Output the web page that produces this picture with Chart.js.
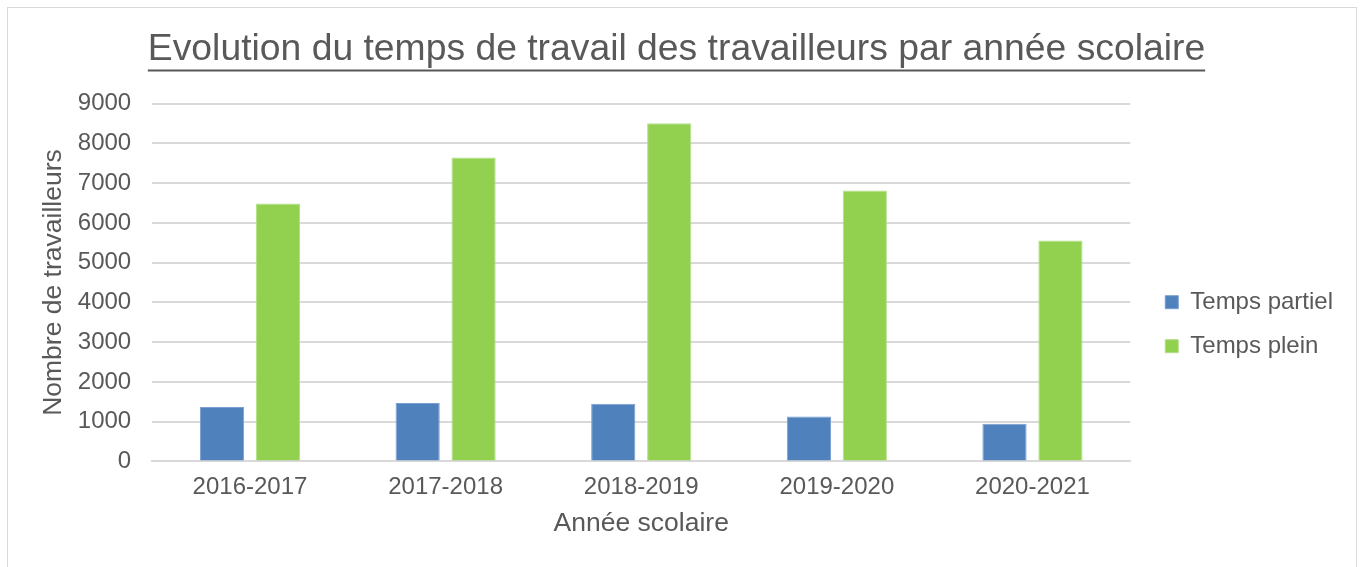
<!DOCTYPE html>
<html>
<head>
<meta charset="utf-8">
<script src="https://cdn.jsdelivr.net/npm/chart.js@4/dist/chart.umd.min.js"></script>
<style>
  html, body { margin: 0; padding: 0; background: #fff; }
  #frame { position: absolute; left: 7px; top: 7px; width: 1348px; height: 600px; border: 1px solid #d9d9d9; }
  #wrap { position: absolute; left: 0; top: 0; width: 1363px; height: 567px; }
</style>
</head>
<body>
<div id="frame"></div>
<div id="wrap"><canvas id="chart-travail"></canvas></div>
<script>
const years = ['2016-2017', '2017-2018', '2018-2019', '2019-2020', '2020-2021'];
const partiel = [1370, 1470, 1450, 1130, 950];
const plein = [6490, 7650, 8510, 6820, 5560];
const yTicks = [0, 1000, 2000, 3000, 4000, 5000, 6000, 7000, 8000, 9000];

const TEXT = '#595959';
const GRID = '#d9d9d9';
const FONT = "'Liberation Sans', Arial, sans-serif";

// Chart.js titles can't be underlined, so draw the line under it ourselves
const underlineTitle = {
  id: 'underlineTitle',
  afterDraw(chart) {
    const t = chart.titleBlock;
    if (!t) return;
    const ctx = chart.ctx;
    const font = Chart.helpers.toFont(t.options.font);
    ctx.save();
    ctx.font = font.string;
    const w = ctx.measureText(t.options.text).width;
    const cx = (t.left + t.right) / 2;
    const y = t.top + t.options.padding.top + font.lineHeight / 2 + 21;
    ctx.strokeStyle = TEXT;
    ctx.lineWidth = 2;
    ctx.beginPath();
    ctx.moveTo(cx - w / 2, y);
    ctx.lineTo(cx + w / 2, y);
    ctx.stroke();
    ctx.restore();
  },
};

new Chart(document.getElementById('chart-travail'), {
  type: 'bar',
  data: {
    labels: years,
    datasets: [
      {
        label: 'Temps partiel',
        data: partiel,
        backgroundColor: '#4f81bd',
        borderColor: '#7a9fd0',
        borderWidth: 1,
        barPercentage: 0.79,
        categoryPercentage: 0.572,
      },
      {
        label: 'Temps plein',
        data: plein,
        backgroundColor: '#92d050',
        borderColor: '#b3df88',
        borderWidth: 1,
        barPercentage: 0.79,
        categoryPercentage: 0.572,
      },
    ],
  },
  options: {
    responsive: true,
    maintainAspectRatio: false,
    animation: false,
    layout: { padding: { left: 10, right: 20, top: 10, bottom: 10 } },
    plugins: {
      title: {
        display: true,
        text: 'Evolution du temps de travail des travailleurs par année scolaire',
        color: TEXT,
        font: { family: FONT, size: 37.3, weight: 'normal' },
        padding: { top: 17, bottom: 32 },
      },
      legend: {
        position: 'right',
        // blank title only pushes the items down to where Excel put them
        title: { display: true, text: ' ', font: { size: 12 }, padding: { top: 67, bottom: 0 } },
        labels: {
          color: TEXT,
          font: { family: FONT, size: 24 },
          boxWidth: 13,
          boxHeight: 13,
          padding: 20,
        },
      },
      tooltip: { enabled: false },
    },
    scales: {
      x: {
        grid: { display: false, drawTicks: false },
        border: { color: GRID, width: 2 },
        ticks: { color: TEXT, font: { family: FONT, size: 24 }, padding: 12 },
        title: {
          display: true,
          text: 'Année scolaire',
          color: TEXT,
          font: { family: FONT, size: 26.5 },
          padding: { top: 8, bottom: 17 },
        },
        // tick padding ends up counted twice, take it back
        afterFit: s => { s.height -= 14; },
      },
      y: {
        min: 0,
        max: 9000,
        afterBuildTicks: s => { s.ticks = yTicks.map(v => ({ value: v })); },
        ticks: { color: TEXT, font: { family: FONT, size: 24 }, padding: 21, callback: v => String(v) },
        grid: { color: GRID, lineWidth: 2, drawTicks: false },
        border: { display: false },
        title: {
          display: true,
          text: 'Nombre de travailleurs',
          color: TEXT,
          font: { family: FONT, size: 26.5 },
          padding: { top: 28, bottom: 8 },
        },
        afterFit: s => { s.width -= 21; },
      },
      // empty axis, just keeps a gap between the plot and the legend
      yGap: {
        type: 'linear',
        position: 'right',
        display: true,
        grid: { display: false, drawTicks: false },
        border: { display: false },
        ticks: { display: false },
        afterFit: s => { s.width = 15; },
      },
    },
  },
  plugins: [underlineTitle],
});
</script>
</body>
</html>
